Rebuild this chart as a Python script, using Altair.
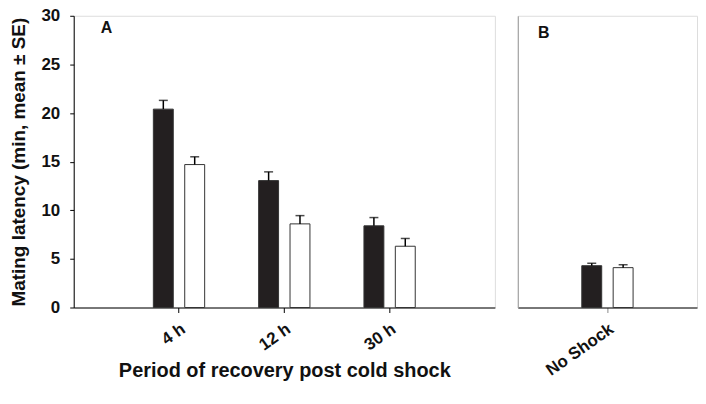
import altair as alt
import pandas as pd

periods = ["4 h", "12 h", "30 h"]
series = ["Series 1", "Series 2"]
means_s1 = [20.4, 13.05, 8.4]
se_s1 = [0.9, 0.9, 0.85]
means_s2 = [14.7, 8.6, 6.3]
se_s2 = [0.8, 0.85, 0.8]

noshock = ["No Shock"]
noshock_means = [4.3, 4.1]
noshock_se = [0.25, 0.3]

y_ticks = [0, 5, 10, 15, 20, 25, 30]
fills = ["#231f20", "#ffffff"]

rowsA = []
for i, p in enumerate(periods):
    rowsA.append({"period": p, "series": series[0], "mean": means_s1[i], "upper": means_s1[i] + se_s1[i]})
    rowsA.append({"period": p, "series": series[1], "mean": means_s2[i], "upper": means_s2[i] + se_s2[i]})
dfA = pd.DataFrame(rowsA)

rowsB = []
for j, s in enumerate(series):
    rowsB.append({"period": noshock[0], "series": s, "mean": noshock_means[j], "upper": noshock_means[j] + noshock_se[j]})
dfB = pd.DataFrame(rowsB)

FONT = "Liberation Sans"
H = 293
yscale = alt.Scale(domain=[0, 30], nice=False)
offset_scale = alt.Scale(domain=series, paddingInner=0.365, paddingOuter=0.1825)
fill_scale = alt.Scale(domain=series, range=fills)

def panel(df, xdomain, xscale, xaxis, yaxis, label, lx, ly, width):
    base = alt.Chart(df).encode(
        x=alt.X("period:N", scale=xscale, axis=xaxis, sort=xdomain),
        xOffset=alt.XOffset("series:N", scale=offset_scale),
    )
    bars = base.mark_bar(stroke="#333333", strokeWidth=1).encode(
        y=alt.Y("mean:Q", scale=yscale, axis=yaxis),
        fill=alt.Fill("series:N", scale=fill_scale, legend=None),
    )
    err = base.mark_rule(color="black", strokeWidth=1.5).encode(
        y=alt.Y("mean:Q"), y2="upper:Q"
    )
    cap = base.mark_tick(color="black", thickness=1.5, size=9).encode(
        y=alt.Y("upper:Q")
    )
    txt = alt.Chart(pd.DataFrame({"t": [label]})).mark_text(
        font=FONT, fontSize=16, fontWeight="bold", align="center", baseline="middle",
        color="#111111",
    ).encode(x=alt.value(lx), y=alt.value(ly), text="t:N")
    return alt.layer(bars, err, cap, txt).properties(width=width, height=H)

xaxisA = alt.Axis(
    title="Period of recovery post cold shock", labelAngle=-35, labelAlign="right",
    labelBaseline="top", labelFontSize=17, labelFontWeight="bold", labelPadding=8,
    tickSize=5, tickColor="black", domainColor="black", titleFontSize=20,
    titleFontWeight="bold", titlePadding=8, labelFont=FONT, titleFont=FONT,
    labelColor="#111111", titleColor="#111111",
)
yaxisA = alt.Axis(
    values=y_ticks, title="Mating latency (min, mean ± SE)", grid=False,
    domainColor="black", tickColor="black", tickSize=4, labelPadding=10,
    labelFontSize=17, labelFontWeight="bold", titleFontSize=19, titleFontWeight="bold",
    titlePadding=13, labelFont=FONT, titleFont=FONT, labelColor="#111111",
    titleColor="#111111",
)
xaxisB = alt.Axis(
    title=None, labelAngle=-35, labelAlign="right", labelBaseline="top",
    labelFontSize=17, labelFontWeight="bold", labelPadding=8, tickSize=5,
    tickColor="#888888", domainColor="black", labelFont=FONT, labelColor="#111111",
)
yaxisB = alt.Axis(title=None, labels=False, ticks=False, grid=False, domainColor="#999999")

chartA = panel(
    dfA, periods,
    alt.Scale(domain=periods, paddingInner=0.404, paddingOuter=0.702),
    xaxisA, yaxisA, "A", 33, 12, 423,
)
chartB = panel(
    dfB, noshock,
    alt.Scale(domain=noshock, paddingInner=0.0, paddingOuter=0.93),
    xaxisB, yaxisB, "B", 26, 17, 180,
)

chart = alt.hconcat(chartA, chartB, spacing=21).properties(
    padding={"left": 0, "top": -3, "right": 0, "bottom": 0}
).configure_view(stroke=None).configure(font=FONT)

chart.save("out.html", embed_options={"renderer": "svg", "actions": False})
